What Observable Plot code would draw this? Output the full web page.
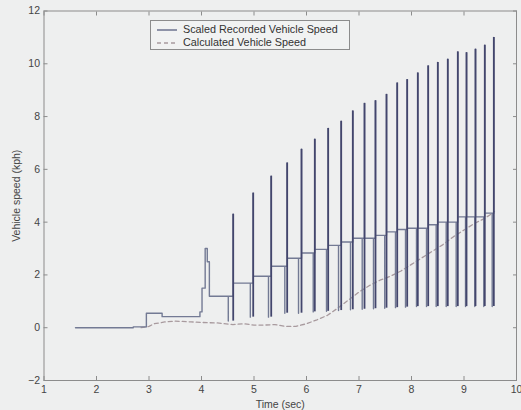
<!DOCTYPE html>
<html><head><meta charset="utf-8">
<script src="https://cdn.jsdelivr.net/npm/d3@7"></script>
<script src="https://cdn.jsdelivr.net/npm/@observablehq/plot@0.6"></script>
<style>
html,body{margin:0;padding:0;background:#eeefef;}
#wrap{position:relative;width:521px;height:410px;overflow:hidden;}
#legend{position:absolute;left:150px;top:20px;width:200px;height:30px;border:1px solid #8c8c8c;background:#f1f2f2;box-sizing:border-box;font:10.8px "Liberation Sans",Arial,sans-serif;color:#333;}
#legend .row{position:absolute;left:6px;height:13px;line-height:13px;white-space:nowrap;}
#legend svg{vertical-align:middle;margin-right:6px;}
</style></head><body><div id="wrap"></div>
<script>
// Axis ticks
const xTicks = [1, 2, 3, 4, 5, 6, 7, 8, 9, 10];
const yTicks = [-2, 0, 2, 4, 6, 8, 10, 12];

// Scaled recorded speed: initial segment (time, value)
const earlyT = [1.6, 2.7, 2.7, 2.95, 2.95, 3.25, 3.25, 3.97, 3.97, 4.01, 4.01, 4.07, 4.07, 4.11, 4.11, 4.15, 4.15];
const earlyV = [0, 0, 0.03, 0.03, 0.55, 0.55, 0.42, 0.42, 0.6, 0.6, 1.5, 1.5, 3.0, 3.0, 2.5, 2.5, 1.19];

// Subsequent cycles: dip time/value, spike time/peak, new level
const troughT = [4.51, 4.93, 5.276, 5.587, 5.848, 6.128, 6.381, 6.61, 6.838, 7.061, 7.276, 7.49, 7.695, 7.886, 8.095, 8.286, 8.47, 8.661, 8.851, 9.029, 9.206, 9.377, 9.537];
const troughV = [0.25, 0.4, 0.4, 0.55, 0.55, 0.6, 0.62, 0.65, 0.68, 0.7, 0.72, 0.74, 0.76, 0.78, 0.8, 0.8, 0.8, 0.8, 0.8, 0.8, 0.8, 0.8, 0.8];
const spikeT = [4.604, 4.985, 5.328, 5.632, 5.905, 6.158, 6.413, 6.661, 6.882, 7.105, 7.314, 7.524, 7.728, 7.918, 8.120, 8.318, 8.501, 8.691, 8.882, 9.048, 9.219, 9.396, 9.568];
const peakV = [4.3, 5.1, 5.74, 6.24, 6.76, 7.14, 7.55, 7.82, 8.21, 8.5, 8.6, 8.84, 9.27, 9.4, 9.65, 9.92, 10.05, 10.17, 10.45, 10.42, 10.55, 10.7, 11.0];
const levelV = [1.69, 1.95, 2.33, 2.63, 2.83, 2.97, 3.12, 3.25, 3.39, 3.39, 3.5, 3.63, 3.72, 3.77, 3.77, 3.9, 4.0, 4.0, 4.2, 4.2, 4.2, 4.34, 4.4];
const endT = 9.58;

// Calculated vehicle speed
const calcT = [2.85, 3.0, 3.1, 3.3, 3.5, 3.8, 4.0, 4.3, 4.6, 4.8, 5.0, 5.2, 5.4, 5.6, 5.8, 6.0, 6.2, 6.4, 6.6, 6.8, 7.0, 7.2, 7.4, 7.6, 7.8, 8.0, 8.2, 8.4, 8.6, 8.8, 9.0, 9.2, 9.4, 9.55];
const calcV = [0, 0.05, 0.15, 0.22, 0.25, 0.22, 0.2, 0.18, 0.12, 0.15, 0.1, 0.1, 0.12, 0.05, 0.05, 0.15, 0.3, 0.47, 0.75, 1.05, 1.35, 1.6, 1.8, 1.95, 2.15, 2.4, 2.65, 2.9, 3.15, 3.45, 3.7, 3.95, 4.15, 4.35];

// Build the recorded polyline
const rec = earlyT.map((t, i) => ({t, v: earlyV[i]}));
let prev = earlyV[earlyV.length - 1];
spikeT.forEach((st, i) => {
  rec.push({t: troughT[i], v: prev}, {t: troughT[i], v: troughV[i]}, {t: troughT[i], v: prev});
  rec.push({t: st, v: prev}, {t: st, v: peakV[i]}, {t: st, v: levelV[i]});
  prev = levelV[i];
});
rec.push({t: endT, v: prev});
const spikes = spikeT.map((t, i) => ({t, lo: troughV[i], hi: peakV[i]}));
const calc = calcT.map((t, i) => ({t, v: calcV[i]}));

const axisColor = "#8c8c8c";
const tk = 4;
const chart = Plot.plot({
  width: 521, height: 410,
  marginLeft: 43.5, marginRight: 5, marginTop: 10.5, marginBottom: 30,
  style: {background: "#eeefef", fontFamily: "'Liberation Sans', Arial, sans-serif", fontSize: "10px", color: "#444"},
  x: {domain: [1, 10]},
  y: {domain: [-2, 12]},
  marks: [
    Plot.line(calc, {x: "t", y: "v", stroke: "#a89a9e", strokeWidth: 1.3, strokeDasharray: "4,3"}),
    Plot.line(rec, {x: "t", y: "v", stroke: "#737a94", strokeWidth: 1.4}),
    Plot.ruleX(spikes, {x: "t", y1: "lo", y2: "hi", stroke: "#43466d", strokeWidth: 1.8}),
    Plot.frame({stroke: axisColor}),
    Plot.axisX({ticks: xTicks, tickSize: 0, tickPadding: 5, fill: "#444", fontSize: 10.5, label: "Time (sec)", labelAnchor: "center", labelArrow: "none", labelOffset: 27}),
    Plot.axisX({ticks: xTicks, tickSize: tk, dy: -tk, text: null, label: null, stroke: axisColor}),
    Plot.axisX({ticks: xTicks, anchor: "top", tickSize: tk, dy: tk, text: null, label: null, stroke: axisColor}),
    Plot.axisY({ticks: yTicks, tickSize: 0, tickPadding: 4, fill: "#444", fontSize: 10.5, label: "Vehicle speed (kph)", labelAnchor: "center", labelArrow: "none", labelOffset: 31}),
    Plot.axisY({ticks: yTicks, tickSize: tk, dx: tk, text: null, label: null, stroke: axisColor}),
    Plot.axisY({ticks: yTicks, anchor: "right", tickSize: tk, dx: -tk, text: null, label: null, stroke: axisColor})
  ]
});
const wrap = document.getElementById("wrap");
wrap.appendChild(chart);

const legend = document.createElement("div");
legend.id = "legend";
legend.innerHTML =
  '<div class="row" style="top:2px"><svg width="20" height="4"><line x1="0" y1="2" x2="20" y2="2" stroke="#636a88" stroke-width="1.4"/></svg>Scaled Recorded Vehicle Speed</div>' +
  '<div class="row" style="top:15px"><svg width="20" height="4"><line x1="0" y1="2" x2="20" y2="2" stroke="#a89a9e" stroke-width="1.3" stroke-dasharray="4,3"/></svg>Calculated Vehicle Speed</div>';
wrap.appendChild(legend);
</script>
</body></html>
